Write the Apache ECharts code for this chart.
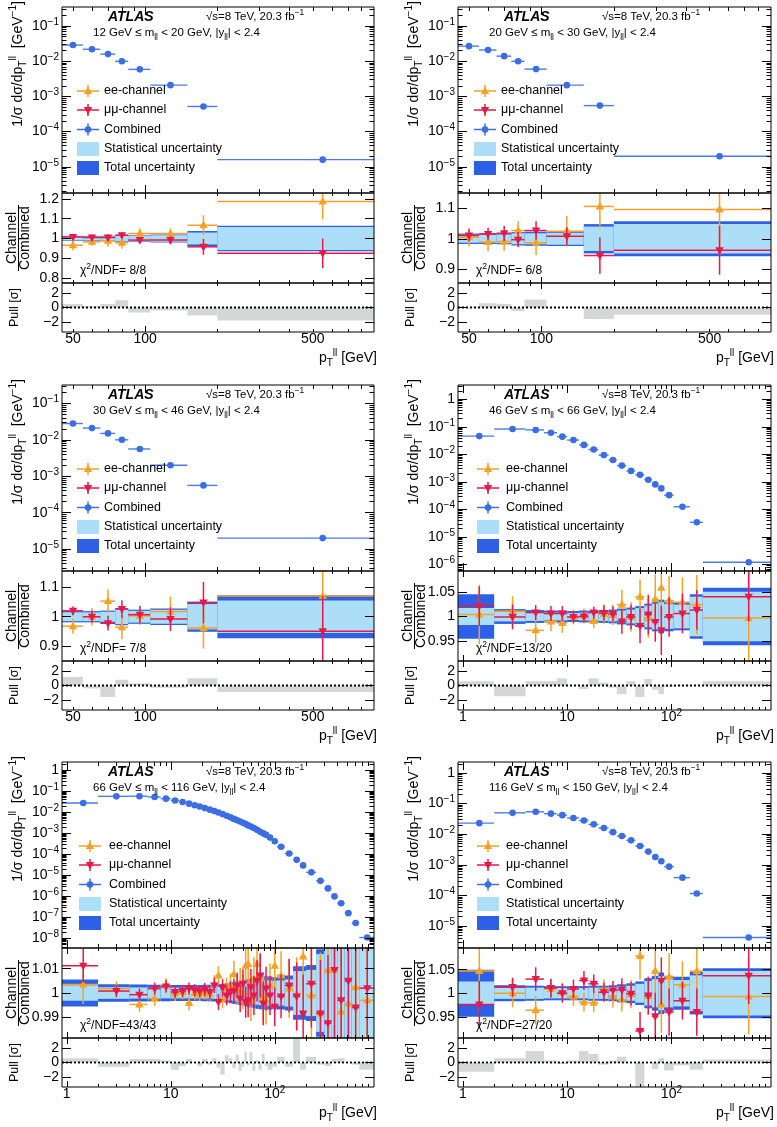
<!DOCTYPE html>
<html>
<head>
<meta charset="utf-8">
<script src="https://cdn.jsdelivr.net/npm/echarts@6.0.0/dist/echarts.min.js"></script>
<style>
html, body { margin: 0; padding: 0; background: #fff; }
#main { width: 777px; height: 1127px; }
</style>
</head>
<body>
<div id="main"></div>
<script>
var FONT = '"Liberation Sans", Arial, Helvetica, sans-serif';
var ORANGE = '#f5a126', RED = '#e6194b', BLUE = '#3b6de5', BLUE_BAR = '#4a7be8';
var DARK = '#2d60e6', LIGHT = '#acdff7', GREY = '#d3d8d6';
var L = Math.log10;

// pT bin edges and marker positions [GeV]
var edgesOff = [45, 55, 65, 75, 85, 105, 150, 200, 900];
var centresOff = [50, 60, 70, 80, 95, 127.5, 175, 550];
var edgesLow = [0, 2, 4, 6, 8, 10, 13, 16, 20, 25, 30, 37, 45, 55, 65, 75, 85, 105, 150, 200, 900];
var centresLow = [1.44, 3, 5, 7, 9, 11.5, 14.5, 18, 22.5, 27.5, 33.5, 41, 50, 60, 70, 80, 95, 127.5, 175, 550];
var edgesPeak = [0, 2, 4, 6, 8, 10, 12, 14, 16, 18, 20, 22.5, 25, 27.5, 30, 33, 36, 39, 42, 45, 48, 51, 54, 57, 61, 65,
  70, 75, 80, 85, 95, 105, 125, 150, 175, 200, 250, 300, 350, 400, 470, 550, 650, 900];
var centresPeak = [1.44, 3, 5, 7, 9, 11, 13, 15, 17, 19, 21.25, 23.75, 26.25, 28.75, 31.5, 34.5, 37.5, 40.5, 43.5, 46.5,
  49.5, 52.5, 55.5, 59, 63, 67.5, 72.5, 77.5, 82.5, 90, 100, 115, 137.5, 162.5, 187.5, 225, 275, 325, 375, 435, 510, 600, 775];

var massBins = [[12, 20], [20, 30], [30, 46], [46, 66], [66, 116], [116, 150]];
var chi2 = [' 8/8', ' 6/8', ' 7/8', '13/20', '43/43', '27/20'];

// tick labels
var xLabelsOff = [50, 100, 500];
var xLabelsLow = [1, 10, 100];
var yExp1 = [-5, -4, -3, -2, -1], yExp2 = [-5, -4, -3, -2, -1], yExp3 = [-5, -4, -3, -2, -1];
var yExp4 = [-6, -5, -4, -3, -2, -1, 0], yExp5 = [-8, -7, -6, -5, -4, -3, -2, -1, 0], yExp6 = [-5, -4, -3, -2, -1, 0];
var ratioLabels1 = [0.8, 0.9, 1, 1.1, 1.2], ratioLabels2 = [0.9, 1, 1.1], ratioLabels3 = [0.9, 1, 1.1];
var ratioLabels4 = [0.95, 1, 1.05], ratioLabels5 = [0.99, 1, 1.01], ratioLabels6 = [0.95, 1, 1.05];
var pullLabels = [-2, 0, 2];

// 12 GeV <= mll < 20 GeV
var comb1 = [0.029, 0.022, 0.016, 0.010, 0.0059, 0.0021, 0.00052, 0.000016];
var stat1 = [0.010, 0.010, 0.011, 0.015, 0.013, 0.017, 0.030, 0.058];
var tot1 = [0.013, 0.013, 0.014, 0.018, 0.016, 0.020, 0.038, 0.065];
var ee1 = [0.966, 0.983, 0.988, 0.978, 1.025, 1.025, 1.067, 1.187];
var eeErr1 = [0.025, 0.02, 0.03, 0.03, 0.025, 0.025, 0.05, 0.09];
var mm1 = [1.008, 1.005, 1.005, 1.017, 0.992, 0.992, 0.958, 0.925];
var mmErr1 = [0.015, 0.015, 0.015, 0.015, 0.015, 0.02, 0.04, 0.075];
var pull1 = [0.5, 0.2, 0.5, 1.0, -0.7, -0.4, -1.1, -1.8];

// 20 GeV <= mll < 30 GeV
var comb2 = [0.027, 0.021, 0.014, 0.010, 0.006, 0.0021, 0.00055, 0.00002];
var stat2 = [0.013, 0.013, 0.014, 0.018, 0.018, 0.020, 0.040, 0.048];
var tot2 = [0.017, 0.017, 0.018, 0.022, 0.023, 0.024, 0.048, 0.057];
var ee2 = [1.005, 0.989, 0.991, 1.027, 0.987, 1.025, 1.106, 1.096];
var eeErr2 = [0.03, 0.03, 0.03, 0.03, 0.04, 0.05, 0.07, 0.15];
var mm2 = [1.011, 1.016, 1.018, 0.997, 1.027, 1.008, 0.945, 0.962];
var mmErr2 = [0.02, 0.02, 0.025, 0.025, 0.03, 0.03, 0.06, 0.08];
var pull2 = [0.1, 0.6, 0.5, -0.5, 1.1, 0, -1.6, -1.0];

// 30 GeV <= mll < 46 GeV
var comb3 = [0.028, 0.021, 0.015, 0.010, 0.0056, 0.0020, 0.00056, 0.00002];
var stat3 = [0.015, 0.015, 0.017, 0.025, 0.020, 0.024, 0.043, 0.055];
var tot3 = [0.019, 0.019, 0.021, 0.029, 0.024, 0.028, 0.051, 0.073];
var ee3 = [0.968, 1.0, 1.053, 0.964, 1.003, 1.018, 0.962, 1.07];
var eeErr3 = [0.025, 0.03, 0.04, 0.04, 0.03, 0.05, 0.07, 0.12];
var mm3 = [1.02, 1.0, 0.978, 1.026, 1.007, 0.992, 1.048, 0.951];
var mmErr3 = [0.015, 0.02, 0.025, 0.03, 0.03, 0.04, 0.07, 0.12];
var pull3 = [1.2, -0.4, -1.6, 0.8, 0.3, -0.3, 1.0, -0.9];

// 46 GeV <= mll < 66 GeV
var comb4 = [0.046, 0.083, 0.077, 0.061, 0.044, 0.033, 0.022, 0.015, 0.0094, 0.0062, 0.0039, 0.0025, 0.0018, 0.0012,
  0.00081, 0.00058, 0.00033, 0.000125, 0.000034, 0.0000012];
var stat4 = [0.017, 0.010, 0.009, 0.008, 0.008, 0.007, 0.008, 0.008, 0.009, 0.010, 0.012, 0.014, 0.017, 0.022, 0.026,
  0.029, 0.025, 0.024, 0.040, 0.050];
var tot4 = [0.045, 0.015, 0.013, 0.012, 0.012, 0.011, 0.012, 0.012, 0.013, 0.014, 0.016, 0.018, 0.021, 0.026, 0.030,
  0.034, 0.030, 0.028, 0.045, 0.058];
var ee4 = [1.004, 1.011, 0.972, 0.990, 0.987, 0.999, 1.001, 0.991, 1.005, 1.003, 1.024, 0.999, 1.040, 0.997, 1.035,
  1.058, 1.032, 1.029, 1.024, 0.997];
var eeErr4 = [0.06, 0.03, 0.025, 0.02, 0.02, 0.015, 0.015, 0.015, 0.02, 0.02, 0.03, 0.03, 0.035, 0.04, 0.05, 0.06,
  0.05, 0.05, 0.06, 0.1];
var mm4 = [1.021, 0.999, 1.008, 1.006, 1.006, 0.999, 1.0, 1.008, 1.007, 1.005, 0.99, 0.999, 0.981, 1.004, 0.989,
  0.972, 0.999, 1.006, 1.013, 1.04];
var mmErr4 = [0.04, 0.025, 0.015, 0.015, 0.015, 0.012, 0.012, 0.012, 0.015, 0.015, 0.025, 0.025, 0.035, 0.04, 0.04,
  0.05, 0.04, 0.04, 0.04, 0.05];
var pull4 = [0.6, -1.5, 0.6, 0.6, 1.0, 0, -0.5, 1.0, 0.4, -0.3, -1.2, 0.6, -1.6, 0.9, -0.6, -1.2, -0.2, -0.1, 0, 0.6];

// 66 GeV <= mll < 116 GeV (ratio deviations in per mille)
var comb5 = [0.028, 0.058, 0.059, 0.054, 0.045, 0.037, 0.031, 0.026, 0.022, 0.019, 0.016, 0.0135, 0.0115, 0.0098,
  0.0083, 0.0069, 0.0058, 0.0049, 0.0042, 0.0037, 0.0032, 0.0028, 0.0024, 0.0021, 0.0018, 0.0015, 0.0012, 0.001,
  0.00085, 0.00063, 0.00042, 0.00023, 0.00011, 0.000055, 0.00003, 0.000014, 0.0000055, 0.0000024, 0.000001,
  0.00000047, 0.00000016, 0.000000054, 0.000000011];
var stat5 = [3.2, 2.4, 2.3, 2.2, 2.2, 2.2, 2.2, 2.2, 2.2, 2.2, 2.3, 2.3, 2.4, 2.5, 2.6, 2.8, 3.0, 3.2, 3.4, 3.6, 3.8,
  4.0, 4.2, 4.4, 4.6, 4.8, 5.0, 5.2, 5.4, 5.2, 5.0, 5.2, 5.6, 9.0, 9.0, 9.5, 16, 22, 30, 40, 55, 80, 120];
var tot5 = [5.6, 3.6, 3.5, 3.4, 3.4, 3.3, 3.3, 3.3, 3.3, 3.3, 3.4, 3.4, 3.5, 3.6, 3.8, 4.0, 4.2, 4.5, 4.7, 5.0, 5.2,
  5.5, 5.7, 6.0, 6.2, 6.5, 6.7, 6.9, 7.0, 6.8, 6.5, 6.8, 7.2, 11, 11, 11.5, 18, 24, 33, 44, 60, 90, 130];
var ee5 = [3.5, 1.8, -4.7, -2.3, 3.1, -0.3, 0.4, -4.1, 0, -0.3, 0.4, -0.3, 3.8, 7.2, -2.3, 1.8, 3.1, 7.8, 1.1, 3.8,
  0.4, 11.2, 11.9, -3, 5.7, 11.9, 6.3, -1.7, -3, 3.1, 11.2, 7.2, 1.8, -0.3, 15, -1.0, -8.4, 9.5, 9.5, -7.7, -4.3, 2.4, -3];
var eeErr5 = [8, 3, 3, 3, 3, 3, 3, 3, 3, 3, 3.2, 3.4, 3.6, 3.8, 4, 4.5, 5, 5.5, 6, 6.5, 7, 7.5, 8, 8.5, 9, 9.5, 10, 10,
  10, 9, 9, 10, 12, 15, 18, 20, 25, 30, 40, 50, 60, 80, 100];
var mm5 = [11.2, 0.8, -0.7, 1.8, 2.7, 0.4, 0.8, 1.8, 1.1, 0.7, 1.4, 0.4, 3.1, -3.7, 2.2, -1, 0.4, 0.8, 3.1, -2.3, 3.8,
  -3.7, -3, 2.4, -1, 5, 7.2, -4.3, 1.8, -1, -5.7, -1.4, 3.1, -1.4, -8.4, 3.8, -8.4, -12.4, 9.5, -3, 5, -6, 2];
var mmErr5 = [7, 2.5, 2.5, 2.5, 2.5, 2.5, 2.5, 2.5, 2.5, 2.5, 2.7, 2.9, 3.1, 3.3, 3.5, 4, 4.4, 4.8, 5.2, 5.6, 6, 6.5,
  7, 7.5, 8, 8.5, 9, 9, 9, 8, 8, 9, 11, 14, 16, 18, 22, 28, 35, 45, 55, 70, 90];
var pull5 = [0.6, -0.6, 0.5, 0.5, 0.3, -1.0, -0.5, 0.5, 0, -0.5, 0.5, -0.3, 0.6, -0.7, -1.7, 1.0, 0.6, -0.8, 1.1, -1.2,
  -0.6, 1.5, -0.4, 1.5, -1.2, 0.3, -1.0, 1.2, -0.5, -1.0, -0.6, 0.8, -0.6, 3.6, -1.0, 0.8, -0.3, -0.5, 0.5, 0.6, 0, -0.3, -1.0];

// 116 GeV <= mll < 150 GeV
var comb6 = [0.023, 0.050, 0.054, 0.047, 0.042, 0.034, 0.028, 0.021, 0.016, 0.0117, 0.0087, 0.0063, 0.0041, 0.0027,
  0.0018, 0.0013, 0.00087, 0.00038, 0.000115, 0.0000042];
var stat6 = [0.025, 0.012, 0.012, 0.011, 0.011, 0.011, 0.011, 0.012, 0.012, 0.013, 0.014, 0.016, 0.020, 0.026, 0.030,
  0.036, 0.030, 0.028, 0.038, 0.047];
var tot6 = [0.050, 0.017, 0.016, 0.015, 0.015, 0.015, 0.015, 0.016, 0.016, 0.017, 0.019, 0.021, 0.025, 0.032, 0.037,
  0.044, 0.037, 0.035, 0.045, 0.053];
var ee6 = [1.047, 1.0, 0.964, 1.009, 1.002, 0.993, 0.981, 0.98, 1.009, 0.994, 0.986, 0.998, 1.079, 0.994, 1.047,
  0.976, 1.035, 1.018, 1.047, 0.993];
var eeErr6 = [0.09, 0.03, 0.03, 0.02, 0.02, 0.02, 0.02, 0.02, 0.02, 0.025, 0.025, 0.03, 0.05, 0.04, 0.05, 0.06, 0.05,
  0.05, 0.06, 0.08];
var mm6 = [0.976, 1.013, 1.03, 1.011, 1.0, 1.009, 1.027, 1.02, 1.002, 1.006, 1.007, 0.999, 0.92, 0.995, 0.951, 1.026,
  0.96, 0.984, 0.96, 1.037];
var mmErr6 = [0.05, 0.02, 0.025, 0.02, 0.02, 0.02, 0.02, 0.02, 0.02, 0.02, 0.025, 0.025, 0.04, 0.04, 0.05, 0.05, 0.05,
  0.04, 0.05, 0.06];
var pull6 = [-1.3, 0.6, 1.6, 0.3, -0.2, 0.3, 1.6, 1.2, -0.3, 0.3, 0.8, 0, -3.6, 0, -0.9, 0.6, -1.1, -0.4, -1.0, 0.4];

function perMille(a) { return a.map(function (d) { return d / 1000; }); }
function fromOne(a) { return a.map(function (d) { return 1 + d / 1000; }); }

var panels = [
  { edges: edgesOff, ctr: centresOff, main: comb1, stat: stat1, tot: tot1, ee: ee1, eeErr: eeErr1, mm: mm1, mmErr: mmErr1,
    pull: pull1, xr: [45, 900], xLab: xLabelsOff, yr: [1.8e-6, 0.35], yExp: yExp1, rr: [0.775, 1.23], rLab: ratioLabels1 },
  { edges: edgesOff, ctr: centresOff, main: comb2, stat: stat2, tot: tot2, ee: ee2, eeErr: eeErr2, mm: mm2, mmErr: mmErr2,
    pull: pull2, xr: [45, 900], xLab: xLabelsOff, yr: [1.8e-6, 0.35], yExp: yExp2, rr: [0.855, 1.15], rLab: ratioLabels2 },
  { edges: edgesOff, ctr: centresOff, main: comb3, stat: stat3, tot: tot3, ee: ee3, eeErr: eeErr3, mm: mm3, mmErr: mmErr3,
    pull: pull3, xr: [45, 900], xLab: xLabelsOff, yr: [2.5e-6, 0.32], yExp: yExp3, rr: [0.85, 1.155], rLab: ratioLabels3 },
  { edges: edgesLow, ctr: centresLow, main: comb4, stat: stat4, tot: tot4, ee: ee4, eeErr: eeErr4, mm: mm4, mmErr: mmErr4,
    pull: pull4, xr: [0.9, 900], xLab: xLabelsLow, yr: [5.8e-7, 3.3], yExp: yExp4, rr: [0.91, 1.092], rLab: ratioLabels4 },
  { edges: edgesPeak, ctr: centresPeak, main: comb5, stat: perMille(stat5), tot: perMille(tot5), ee: fromOne(ee5),
    eeErr: perMille(eeErr5), mm: fromOne(mm5), mmErr: perMille(mmErr5), pull: pull5, xr: [0.9, 900], xLab: xLabelsLow,
    yr: [3.5e-9, 2.5], yExp: yExp5, rr: [0.9815, 1.0185], rLab: ratioLabels5 },
  { edges: edgesLow, ctr: centresLow, main: comb6, stat: stat6, tot: tot6, ee: ee6, eeErr: eeErr6, mm: mm6, mmErr: mmErr6,
    pull: pull6, xr: [0.9, 900], xLab: xLabelsLow, yr: [1.9e-6, 2.3], yExp: yExp6, rr: [0.905, 1.096], rLab: ratioLabels6 }
];

// layout
var ROW_TOP = [7, 385, 762];
var H_MAIN = 186, H_RATIO = 90, H_PULL = 49;
var LEG_MARK = [26, 27, 26, 30, 28, 30], LEG_TEXT = [42, 43, 42, 48, 47, 48];
var LEG_ROWS = [84, 103, 122.5, 142, 161];

var RICH_AX = {
  n: { fontSize: 14, lineHeight: 18, fontFamily: FONT, color: '#000' },
  s: { fontSize: 10, lineHeight: 10, verticalAlign: 'top', fontFamily: FONT, color: '#000' }
};

function powLabel(v) {
  var n = Math.round(v);
  if (n === 0) return '{n|1}';
  if (n === 1) return '{n|10}';
  return '{n|10}{s|' + (n < 0 ? '\u2212' + (-n) : n) + '}';
}
function plainLabel(v) { return '{n|' + Math.round(Math.pow(10, v)) + '}'; }
function ratioLabel(v) { return '{n|' + parseFloat(v.toFixed(4)) + '}'; }
function pullLabel(v) { var n = Math.round(v); return '{n|' + (n < 0 ? '\u2212' + (-n) : n) + '}'; }

function logTicks(r) {
  var maj = [], mnr = [], a = L(r[0]), b = L(r[1]);
  for (var d = Math.floor(a); d <= Math.ceil(b); d++) {
    if (d >= a - 1e-9 && d <= b + 1e-9) maj.push(d);
    for (var k = 2; k <= 9; k++) {
      var v = d + L(k);
      if (v > a && v < b) mnr.push(v);
    }
  }
  return [maj, mnr];
}

var grids = [], xAxes = [], yAxes = [], series = [], graphics = [];

function makeGrid(l, t, w, h) {
  return { left: l, top: t, width: w, height: h, show: true, borderColor: '#000', borderWidth: 1,
    backgroundColor: 'transparent', containLabel: false, outerBoundsMode: 'none', z: 10 };
}

function addAxis(list, g, pos, range, ticks, len, label) {
  list.push({
    gridIndex: g, type: 'value', position: pos, min: range[0], max: range[1], z: 12,
    axisLine: { show: false, onZero: false },
    splitLine: { show: false }, splitArea: { show: false }, minorTick: { show: false },
    axisTick: { show: ticks.length > 0, inside: true, length: len, customValues: ticks,
      lineStyle: { color: '#000', width: 1 } },
    axisLabel: label || { show: false },
    axisPointer: { show: false }
  });
}

function labelCfg(values, fmt, margin) {
  return { show: true, customValues: values, formatter: fmt, margin: margin, color: '#000',
    fontSize: 14, fontFamily: FONT, rich: RICH_AX };
}

function addGridAxes(g, xr, xt, xLen, xLabel, yr, yMaj, yMin, yLen, yLabel) {
  addAxis(xAxes, g, 'bottom', xr, xt[0], xLen, xLabel);
  addAxis(xAxes, g, 'bottom', xr, xt[1], xLen / 2, null);
  addAxis(xAxes, g, 'top', xr, xt[0], xLen, null);
  addAxis(xAxes, g, 'top', xr, xt[1], xLen / 2, null);
  addAxis(yAxes, g, 'left', yr, yMaj, yLen, yLabel);
  addAxis(yAxes, g, 'left', yr, yMin, yLen / 2, null);
  addAxis(yAxes, g, 'right', yr, yMaj, yLen, null);
  addAxis(yAxes, g, 'right', yr, yMin, yLen / 2, null);
}

function clampX(cs, x) { return Math.max(cs.x, Math.min(cs.x + cs.width, x)); }
function clampY(cs, y) { return Math.max(cs.y, Math.min(cs.y + cs.height, y)); }

function marker(kind, x, y, color) {
  if (kind === 'circle') return { type: 'circle', shape: { cx: x, cy: y, r: 3.3 }, style: { fill: color } };
  var pts = kind === 'up'
    ? [[x, y - 4.6], [x - 4.2, y + 3], [x + 4.2, y + 3]]
    : [[x, y + 4.6], [x - 4.2, y - 3], [x + 4.2, y - 3]];
  return { type: 'polygon', shape: { points: pts }, style: { fill: color } };
}

function renderCombined(params, api) {
  var cs = params.coordSys, y = api.value(3);
  var a = api.coord([api.value(0), y]), b = api.coord([api.value(1), y]), c = api.coord([api.value(2), y]);
  return { type: 'group', children: [
    { type: 'line', shape: { x1: clampX(cs, a[0]), y1: a[1], x2: clampX(cs, b[0]), y2: b[1] },
      style: { stroke: BLUE_BAR, lineWidth: 1.4 } },
    marker('circle', c[0], c[1], BLUE)
  ] };
}

function renderBand(params, api) {
  var cs = params.coordSys, kids = [];
  [[3, DARK], [2, LIGHT]].forEach(function (d) {
    var p1 = api.coord([api.value(0), 1 + api.value(d[0])]);
    var p2 = api.coord([api.value(1), 1 - api.value(d[0])]);
    var r = echarts.graphic.clipRectByRect(
      { x: p1[0], y: p1[1], width: p2[0] - p1[0], height: p2[1] - p1[1] },
      { x: cs.x, y: cs.y, width: cs.width, height: cs.height });
    if (r) kids.push({ type: 'rect', shape: r, style: { fill: d[1] } });
  });
  return { type: 'group', children: kids };
}

function channelRenderer(color, kind) {
  return function (params, api) {
    var cs = params.coordSys, v = api.value(3), e = api.value(4);
    var a = api.coord([api.value(0), v]), b = api.coord([api.value(1), v]), c = api.coord([api.value(2), v]);
    var t = clampY(cs, api.coord([api.value(2), v + e])[1]);
    var u = clampY(cs, api.coord([api.value(2), v - e])[1]);
    var inside = c[1] >= cs.y && c[1] <= cs.y + cs.height;
    var kids = [];
    if (inside) kids.push({ type: 'line', shape: { x1: clampX(cs, a[0]), y1: c[1], x2: clampX(cs, b[0]), y2: c[1] },
      style: { stroke: color, lineWidth: 1.5 } });
    if (u > t) kids.push({ type: 'line', shape: { x1: c[0], y1: t, x2: c[0], y2: u },
      style: { stroke: color, lineWidth: 1.5 } });
    if (inside) kids.push(marker(kind, c[0], c[1], color));
    return { type: 'group', children: kids };
  };
}

function renderPull(params, api) {
  var cs = params.coordSys, v = api.value(2);
  var p1 = api.coord([api.value(0), Math.max(v, 0)]), p2 = api.coord([api.value(1), Math.min(v, 0)]);
  var r = echarts.graphic.clipRectByRect(
    { x: p1[0], y: p1[1], width: p2[0] - p1[0], height: p2[1] - p1[1] },
    { x: cs.x, y: cs.y, width: cs.width, height: cs.height });
  return { type: 'group', children: r ? [{ type: 'rect', shape: r, style: { fill: GREY } }] : [] };
}

function richFor(size) {
  var s = Math.round(size * 0.72 * 10) / 10;
  return {
    sup: { fontSize: s, lineHeight: s, verticalAlign: 'top', fontFamily: FONT, fill: '#000' },
    sub: { fontSize: s, lineHeight: s, verticalAlign: 'bottom', fontFamily: FONT, fill: '#000' }
  };
}

function text(x, y, str, size, opt) {
  opt = opt || {};
  var align = opt.align || 'left';
  return { type: 'text', x: x, y: y, rotation: opt.rot || 0, z: 30, silent: true,
    style: { text: str, fill: '#000', fontSize: size, fontFamily: FONT, fontWeight: opt.weight || 'normal',
      fontStyle: opt.italic ? 'italic' : 'normal', lineHeight: Math.round(size * 1.45),
      align: align, textAlign: align, verticalAlign: 'middle', textVerticalAlign: 'middle', rich: richFor(size) } };
}

function legendLine(x, y, color, kind) {
  graphics.push({ type: 'line', z: 30, shape: { x1: x - 11, y1: y, x2: x + 11, y2: y }, style: { stroke: color, lineWidth: 1.5 } });
  graphics.push({ type: 'line', z: 30, shape: { x1: x, y1: y - 6, x2: x, y2: y + 6 }, style: { stroke: color, lineWidth: 1.5 } });
  var m = marker(kind, x, y, color); m.z = 31; graphics.push(m);
}

panels.forEach(function (p, idx) {
  var col = idx % 2, row = (idx - col) / 2;
  var left = col ? 458 : 62, width = col ? 313 : 312, top = ROW_TOP[row];
  var gMain = grids.length, gRatio = gMain + 1, gPull = gMain + 2;
  grids.push(makeGrid(left, top, width, H_MAIN));
  grids.push(makeGrid(left, top + H_MAIN, width, H_RATIO));
  grids.push(makeGrid(left, top + H_MAIN + H_RATIO, width, H_PULL));

  var xr = [L(p.xr[0]), L(p.xr[1])], xt = logTicks(p.xr);
  var yr = [L(p.yr[0]), L(p.yr[1])], yt = logTicks(p.yr);
  var low = p.xr[0] < 10;

  addGridAxes(gMain, xr, xt, 8, null, yr, yt[0], yt[1], 9, labelCfg(p.yExp, powLabel, 3));
  addGridAxes(gRatio, xr, xt, 6, null, p.rr, p.rLab, [], 9, labelCfg(p.rLab, ratioLabel, 3));
  addGridAxes(gPull, xr, xt, 6, labelCfg(p.xLab.map(L), low ? powLabel : plainLabel, -2),
    [-3.4, 3.4], pullLabels, [], 9, labelCfg(pullLabels, pullLabel, 3));

  var lo = [], hi = [];
  for (var i = 0; i < p.edges.length - 1; i++) {
    lo.push(L(Math.max(p.edges[i], p.xr[0])));
    hi.push(L(Math.min(p.edges[i + 1], p.xr[1])));
  }

  series.push({ type: 'custom', xAxisIndex: 4 * gMain, yAxisIndex: 4 * gMain, silent: true, z: 3,
    renderItem: renderCombined,
    data: p.main.map(function (v, i) { return [lo[i], hi[i], L(p.ctr[i]), L(v)]; }) });
  series.push({ type: 'custom', xAxisIndex: 4 * gRatio, yAxisIndex: 4 * gRatio, silent: true, z: 2,
    renderItem: renderBand,
    data: p.stat.map(function (s, i) { return [lo[i], hi[i], s, p.tot[i]]; }) });
  series.push({ type: 'custom', xAxisIndex: 4 * gRatio, yAxisIndex: 4 * gRatio, silent: true, z: 3,
    renderItem: channelRenderer(ORANGE, 'up'),
    data: p.ee.map(function (v, i) { return [lo[i], hi[i], L(p.ctr[i]), v, p.eeErr[i]]; }) });
  series.push({ type: 'custom', xAxisIndex: 4 * gRatio, yAxisIndex: 4 * gRatio, silent: true, z: 4,
    renderItem: channelRenderer(RED, 'down'),
    data: p.mm.map(function (v, i) { return [lo[i], hi[i], L(p.ctr[i]), v, p.mmErr[i]]; }) });
  series.push({ type: 'custom', xAxisIndex: 4 * gPull, yAxisIndex: 4 * gPull, silent: true, z: 2,
    renderItem: renderPull,
    data: p.pull.map(function (v, i) { return [lo[i], hi[i], v]; }) });
  series.push({ type: 'line', xAxisIndex: 4 * gPull, yAxisIndex: 4 * gPull, silent: true, z: 4,
    symbol: 'none', data: [[xr[0], 0], [xr[1], 0]],
    lineStyle: { color: '#000', width: 1.8, type: [2, 2] } });

  // header
  var m = massBins[idx];
  graphics.push(text(left + 46, top + 10, 'ATLAS', 14, { weight: 'bold', italic: true }));
  graphics.push(text(left + 144, top + 10, '\u221As=8 TeV, 20.3 fb{sup|\u22121}', 11.5));
  graphics.push(text(left + 31, top + 26, m[0] + ' GeV \u2264 m{sub|ll} < ' + m[1] + ' GeV, |y{sub|ll}| < 2.4', 11.5));

  // legend
  var lx = left + LEG_MARK[idx], tx = left + LEG_TEXT[idx];
  var ly = LEG_ROWS.map(function (d) { return top + d; });
  legendLine(lx, ly[0], ORANGE, 'up');
  legendLine(lx, ly[1], RED, 'down');
  legendLine(lx, ly[2], BLUE, 'circle');
  graphics.push({ type: 'rect', z: 30, shape: { x: lx - 11, y: ly[3] - 7, width: 22, height: 14 }, style: { fill: LIGHT } });
  graphics.push({ type: 'rect', z: 30, shape: { x: lx - 11, y: ly[4] - 7, width: 22, height: 14 }, style: { fill: DARK } });
  ['ee-channel', '\u03bc\u03bc-channel', 'Combined', 'Statistical uncertainty', 'Total uncertainty'].forEach(function (s, k) {
    graphics.push(text(tx, ly[k], s, 12.5));
  });

  // axis titles
  graphics.push(text(left - 44, top - 6, '1/\u03c3 d\u03c3/dp{sub|T}{sup|ll}  [GeV{sup|\u22121}]', 14,
    { rot: Math.PI / 2, align: 'right' }));
  var rMid = top + H_MAIN + H_RATIO / 2;
  graphics.push(text(left - 50, rMid, 'Channel', 14, { rot: Math.PI / 2, align: 'center' }));
  graphics.push({ type: 'line', z: 30, shape: { x1: left - 43.5, y1: rMid - 33, x2: left - 43.5, y2: rMid + 33 },
    style: { stroke: '#000', lineWidth: 1 } });
  graphics.push(text(left - 37, rMid, 'Combined', 14, { rot: Math.PI / 2, align: 'center' }));
  var pTop = top + H_MAIN + H_RATIO;
  graphics.push(text(left - 47, pTop + H_PULL / 2, 'Pull [\u03c3]', 12.5, { rot: Math.PI / 2, align: 'center' }));
  graphics.push(text(left + width + 3, pTop + H_PULL + 26, 'p{sub|T}{sup|ll} [GeV]', 14, { align: 'right' }));
  graphics.push(text(left + 18, pTop - 12, '\u03c7{sup|2}/NDF=' + chi2[idx], 12));
});

var chart = echarts.init(document.getElementById('main'), null, { renderer: 'canvas' });
chart.setOption({
  animation: false,
  backgroundColor: '#fff',
  textStyle: { fontFamily: FONT },
  grid: grids,
  xAxis: xAxes,
  yAxis: yAxes,
  series: series,
  graphic: { elements: graphics }
});
</script>
</body>
</html>
